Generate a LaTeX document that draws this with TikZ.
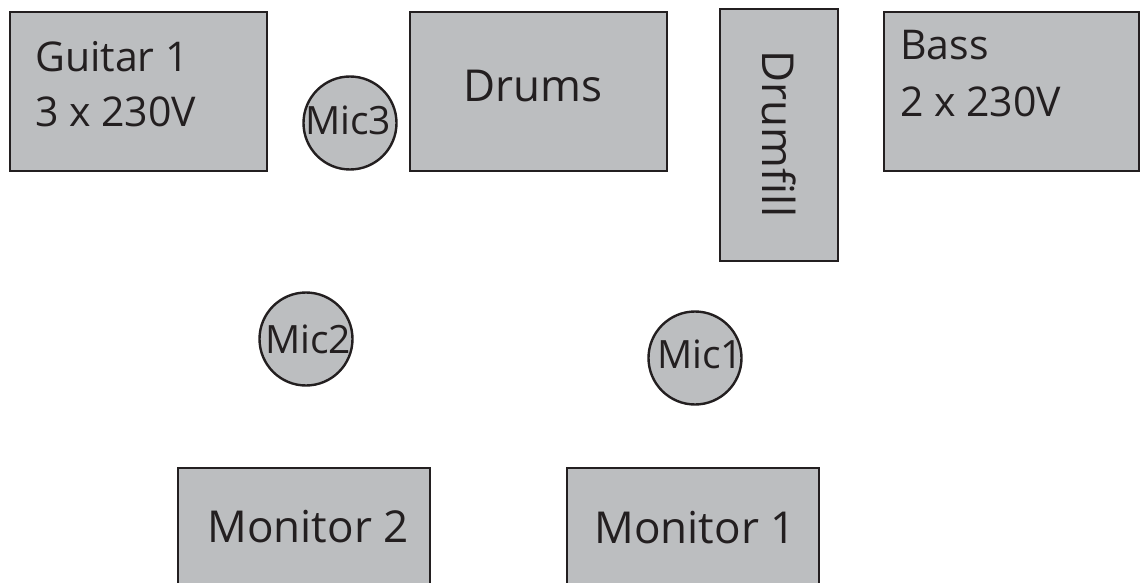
\documentclass[tikz,border=0pt]{standalone}
\usepackage{fontspec}
\setmainfont{Open Sans}
\definecolor{boxfill}{HTML}{BCBEC0}
\definecolor{ink}{HTML}{231F20}
\begin{document}
\begin{tikzpicture}[x=1pt,y=-1pt,
  box/.style={draw=ink,fill=boxfill,line width=2.6pt},
  lbl/.style={text=ink,inner sep=0pt,font=\fontsize{41}{50}\selectfont},
  biglbl/.style={text=ink,inner sep=0pt,font=\fontsize{44}{52}\selectfont},
  miclbl/.style={text=ink,inner sep=0pt,font=\fontsize{39}{46}\selectfont},
  mic/.style={circle,draw=ink,fill=boxfill,line width=2.4pt,minimum size=93pt,inner sep=0pt}]
\useasboundingbox (0,0) rectangle (1141,583);
\clip (0,0) rectangle (1141,583);
% boxes
\draw[box] (10,12) rectangle (267,171);
\draw[box] (410,12) rectangle (667,171);
\draw[box] (720,9) rectangle (838,261);
\draw[box] (884,12) rectangle (1139,171);
\draw[box] (178,468) rectangle (430,640);
\draw[box] (567,468) rectangle (819,640);
% mics
\node[mic] (mic3) at (350,123) {};
\node[mic] (mic2) at (306,339) {};
\node[mic] (mic1) at (695,358) {};
% labels
\node[lbl,anchor=base west] (g1a) at (35,72) {Guitar 1};
\node[lbl,anchor=base west] (g1b) at (35,127) {3 x 230V};
\node[biglbl,anchor=base] (drums) at (533,102) {Drums};
\node[biglbl,anchor=base,rotate=-90] (drumfill) at (762,134) {Drumfill};
\node[lbl,anchor=base west] (bassa) at (900,60) {Bass};
\node[lbl,anchor=base west] (bassb) at (900,117) {2 x 230V};
\node[biglbl,anchor=base] (mon2) at (308,542) {Monitor 2};
\node[biglbl,anchor=base] (mon1) at (695,543) {Monitor 1};
\node[miclbl,anchor=base] (m3) at (348,135) {Mic3};
\node[miclbl,anchor=base] (m2) at (308,353) {Mic2};
\node[miclbl,anchor=base] (m1) at (700,368) {Mic1};
\end{tikzpicture}
\end{document}
